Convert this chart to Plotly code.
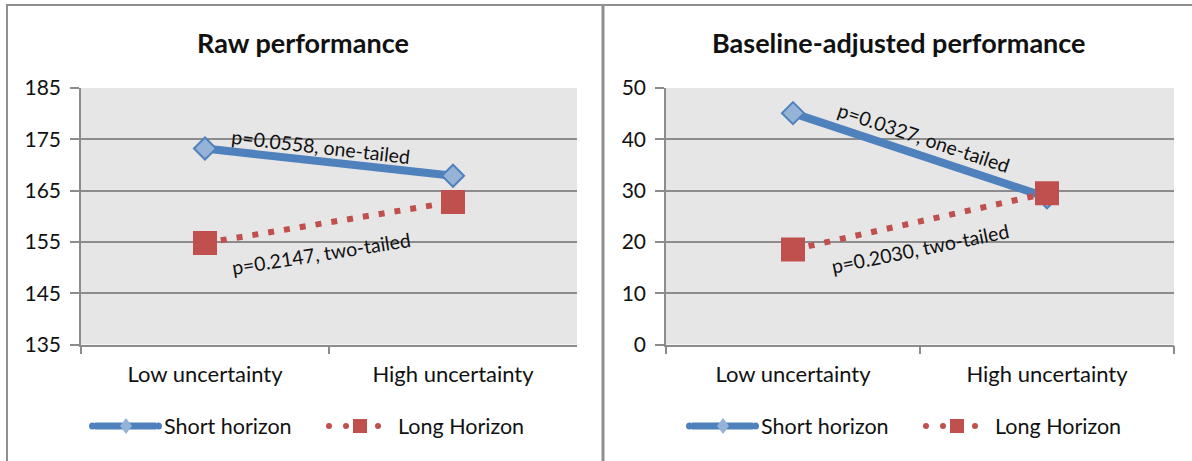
import plotly.graph_objects as go

# Conditions and series values
categories = ["Low uncertainty", "High uncertainty"]
raw_short = [173.2, 167.9]
raw_long = [154.8, 162.8]
adj_short = [45.1, 28.7]
adj_long = [18.5, 29.5]

titles = ["Raw performance", "Baseline-adjusted performance"]
raw_notes = ["p=0.0558, one-tailed", "p=0.2147, two-tailed"]
adj_notes = ["p=0.0327, one-tailed", "p=0.2030, two-tailed"]
series_names = ["Short horizon", "Long Horizon"]

W, H = 1192, 461
FONT = "Lato"
BLUE = "#4F81BD"
BLUE_FILL = "#95B3D7"
RED = "#C0504D"
GRID = "#8C8C8C"
TXT = "#111111"


def px(x):
    return x / W


def py(y):
    return 1 - y / H


fig = go.Figure()

panels = [
    dict(xa="x", ya="y", short=raw_short, long=raw_long,
         xdom=[px(81), px(577)], yrange=[135, 185]),
    dict(xa="x2", ya="y2", short=adj_short, long=adj_long,
         xdom=[px(666), px(1174)], yrange=[0, 50]),
]

short_traces, long_traces = [], []
for p in panels:
    long_traces.append(go.Scatter(
        x=categories, y=p["long"], xaxis=p["xa"], yaxis=p["ya"],
        mode="lines+markers", showlegend=False,
        line=dict(color=RED, width=6, dash="6px,10px"),
        marker=dict(symbol="square", size=24, color=RED, line=dict(width=0)),
    ))
    short_traces.append(go.Scatter(
        x=categories, y=p["short"], xaxis=p["xa"], yaxis=p["ya"],
        mode="lines+markers", showlegend=False,
        line=dict(color=BLUE, width=8),
        marker=dict(symbol="diamond", size=17, color=BLUE_FILL,
                    line=dict(color=BLUE, width=2)),
    ))

# left panel: short horizon on top; right panel: long horizon square on top
fig.add_trace(long_traces[0])
fig.add_trace(short_traces[0])
fig.add_trace(short_traces[1])
fig.add_trace(long_traces[1])

axis_common = dict(
    showline=True, linecolor=GRID, linewidth=1.5,
    ticks="outside", tickcolor=GRID, tickwidth=1.5, automargin=False,
)
xfont = dict(family=FONT, size=22, color=TXT)
yfont = dict(family=FONT, size=21, color=TXT)

ydom = [py(344.5), py(88)]
fig.update_layout(
    xaxis=dict(domain=panels[0]["xdom"], anchor="y", type="category",
               tickson="boundaries", ticklen=8, range=[-0.5, 1.5],
               showgrid=False, ticklabelstandoff=9, tickfont=xfont, **axis_common),
    yaxis=dict(domain=ydom, anchor="x", range=panels[0]["yrange"], tick0=135, dtick=10,
               showgrid=True, gridcolor=GRID, gridwidth=1.5, ticklen=9,
               ticklabelstandoff=5, zeroline=False, tickfont=yfont, **axis_common),
    xaxis2=dict(domain=panels[1]["xdom"], anchor="y2", type="category",
                tickson="boundaries", ticklen=8, range=[-0.5, 1.5],
                showgrid=False, ticklabelstandoff=9, tickfont=xfont, **axis_common),
    yaxis2=dict(domain=ydom, anchor="x2", range=panels[1]["yrange"], tick0=0, dtick=10,
                showgrid=True, gridcolor=GRID, gridwidth=1.5, ticklen=9,
                ticklabelstandoff=5, zeroline=False, tickfont=yfont, **axis_common),
)

annotations = []
shapes = []

# Panel titles
for cx, t in zip([303, 899], titles):
    annotations.append(dict(
        x=px(cx), y=py(42), xref="paper", yref="paper", text=t, showarrow=False,
        xanchor="center", yanchor="middle",
        font=dict(family=FONT, size=27, color=TXT, weight="bold"),
    ))

# p-value notes along the lines
note_pos = [
    ("x", "y", raw_notes[0], 0.466, 173.5, 6.5),
    ("x", "y", raw_notes[1], 0.466, 152.8, -9),
    ("x2", "y2", adj_notes[0], 0.512, 40.3, 18.5),
    ("x2", "y2", adj_notes[1], 0.50, 18.7, -11.5),
]
for xr, yr, txt, xv, yv, ang in note_pos:
    annotations.append(dict(
        x=xv, y=yv, xref=xr, yref=yr, text=txt, showarrow=False,
        textangle=ang, xanchor="center", yanchor="middle",
        font=dict(family=FONT, size=19.5, color=TXT),
    ))

# Custom legends below each panel
for ox in [0, 597]:
    ly = 426
    # short horizon swatch
    shapes.append(dict(type="line", xref="paper", yref="paper",
                       x0=px(ox + 95), x1=px(ox + 156), y0=py(ly), y1=py(ly),
                       line=dict(color=BLUE, width=7)))
    shapes.append(dict(type="circle", xref="paper", yref="paper",
                       x0=px(ox + 89), x1=px(ox + 96), y0=py(ly + 3.5), y1=py(ly - 3.5),
                       fillcolor=BLUE, line=dict(width=0)))
    shapes.append(dict(type="circle", xref="paper", yref="paper",
                       x0=px(ox + 155), x1=px(ox + 162), y0=py(ly + 3.5), y1=py(ly - 3.5),
                       fillcolor=BLUE, line=dict(width=0)))
    cx = ox + 126
    shapes.append(dict(type="path", xref="paper", yref="paper",
                       path=f"M {px(cx - 6)} {py(ly)} L {px(cx)} {py(ly - 8)} "
                            f"L {px(cx + 6)} {py(ly)} L {px(cx)} {py(ly + 8)} Z",
                       fillcolor=BLUE_FILL, line=dict(color=BLUE_FILL, width=0)))
    annotations.append(dict(
        x=px(ox + 162), y=py(ly), xref="paper", yref="paper", text=series_names[0],
        showarrow=False, xanchor="left", yanchor="middle",
        font=dict(family=FONT, size=21.5, color=TXT)))
    # long horizon swatch
    for dx in [329, 346, 378]:
        shapes.append(dict(type="circle", xref="paper", yref="paper",
                           x0=px(ox + dx - 3), x1=px(ox + dx + 3),
                           y0=py(ly + 3), y1=py(ly - 3),
                           fillcolor=RED, line=dict(width=0)))
    shapes.append(dict(type="rect", xref="paper", yref="paper",
                       x0=px(ox + 353), x1=px(ox + 367), y0=py(ly + 7), y1=py(ly - 7),
                       fillcolor=RED, line=dict(width=0)))
    annotations.append(dict(
        x=px(ox + 396), y=py(ly), xref="paper", yref="paper", text=series_names[1],
        showarrow=False, xanchor="left", yanchor="middle",
        font=dict(family=FONT, size=21.5, color=TXT)))

# Frame around the two panels
FRAME = "#8F8F8F"
shapes.append(dict(type="line", xref="paper", yref="paper",
                   x0=px(6), x1=1, y0=py(5), y1=py(5),
                   line=dict(color=FRAME, width=2)))
shapes.append(dict(type="line", xref="paper", yref="paper",
                   x0=px(7), x1=px(7), y0=py(5), y1=0,
                   line=dict(color=FRAME, width=2)))
shapes.append(dict(type="line", xref="paper", yref="paper",
                   x0=px(603), x1=px(603), y0=py(5), y1=0,
                   line=dict(color=FRAME, width=3)))

fig.update_layout(
    width=W, height=H,
    margin=dict(l=0, r=0, t=0, b=0, pad=0),
    paper_bgcolor="white",
    plot_bgcolor="#E6E6E6",
    showlegend=False,
    annotations=annotations,
    shapes=shapes,
    font=dict(family=FONT, color=TXT),
)

fig.write_html("out.html")
